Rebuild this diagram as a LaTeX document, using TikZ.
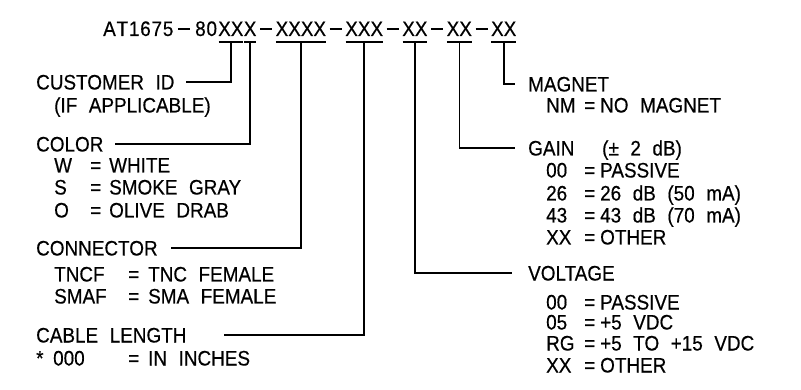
\documentclass[tikz,border=0pt]{standalone}
\usepackage{fontspec}
\setmainfont[FakeStretch=0.9,FakeBold=0.4]{Liberation Sans}
\newcommand{\kvrow}[4]{\makebox[#1][l]{#2}\makebox[#3][l]{=}#4}
\newcommand{\widesp}{\spaceskip=0.55em\relax}
\newcommand{\ks}{\kern0.8pt}
\newcommand{\tdash}{\rule[6.3pt]{12pt}{1.6pt}}
\tikzset{
  lbl/.style={font=\fontsize{21}{24}\selectfont, execute at begin node=\widesp, anchor=base west, inner sep=0pt, text height=15pt, text depth=0pt},
  ttl/.style={font=\fontsize{21}{24}\selectfont, anchor=base west, inner sep=0pt, text height=15pt, text depth=0pt},
  dashn/.style={ttl, inner xsep=3.2pt},
  wire/.style={line width=1.6pt},
}
\begin{document}
\begin{tikzpicture}[x=1pt,y=-1pt]
\fill[white] (0,0) rectangle (801,390);
\useasboundingbox (0,0) rectangle (801,390);
% title
\node[ttl] (t0) at (103,36) {A\ks T\ks 1\ks 6\ks 7\ks 5};
\node[dashn, inner xsep=4.5pt] (d0) at (t0.base east) {\tdash};
\node[ttl] (t1) at (d0.base east) {8\ks 0\ks};
\node[ttl] (g1) at (t1.base east) {XX};
\node[ttl] (g2) at (g1.base east) {X};
\node[dashn] (d1) at (g2.base east) {\tdash};
\node[ttl] (g3) at (d1.base east) {XXXX};
\node[dashn] (d2) at (g3.base east) {\tdash};
\node[ttl] (g4) at (d2.base east) {XXX};
\node[dashn] (d3) at (g4.base east) {\tdash};
\node[ttl] (g5) at (d3.base east) {XX};
\node[dashn] (d4) at (g5.base east) {\tdash};
\node[ttl] (g6) at (d4.base east) {XX};
\node[dashn] (d5) at (g6.base east) {\tdash};
\node[ttl] (g7) at (d5.base east) {XX};
\foreach \g in {g1,g2,g3,g4,g5,g6,g7}{
  \draw[wire] ([yshift=-6pt,xshift=0.5pt]\g.south west) -- ([yshift=-6pt,xshift=-0.5pt]\g.south east);
}
% left labels
\node[lbl] (cust) at (36,89.5) {CUSTOMER ID};
\node[lbl] (custn) at (54,112.5) {(IF APPLICABLE)};
\node[lbl] (color) at (36,151.5) {COLOR};
\node[lbl] (cw) at (54,172.5) {\kvrow{36pt}{W}{19pt}{WHITE}};
\node[lbl] (cs) at (54,194.5) {\kvrow{36pt}{S}{19pt}{SMOKE GRAY}};
\node[lbl] (co) at (54,217.5) {\kvrow{36pt}{O}{19pt}{OLIVE DRAB}};
\node[lbl] (conn) at (36,255.5) {CONNECTOR};
\node[lbl] (ctn) at (54,281.5) {\kvrow{74pt}{TNCF}{20pt}{TNC FEMALE}};
\node[lbl] (csm) at (54,303.5) {\kvrow{74pt}{SMAF}{20pt}{SMA FEMALE}};
\node[lbl] (cable) at (36,342.5) {CABLE LENGTH};
\node[lbl] (cin) at (36,365.5) {\makebox[17pt][l]{*}\kvrow{75pt}{000}{20pt}{IN INCHES}};
% right labels
\node[lbl] (mag) at (528,91.5) {MAGNET};
\node[lbl] (mnm) at (546,112.5) {\kvrow{38pt}{NM}{16pt}{NO MAGNET}};
\node[lbl] (gain) at (528,155.5) {\makebox[74pt][l]{GAIN}(± 2 dB)};
\node[lbl] (g00) at (546,177.5) {\kvrow{38pt}{00}{16pt}{PASSIVE}};
\node[lbl] (g26) at (546,200.5) {\kvrow{38pt}{26}{16pt}{26 dB (50 mA)}};
\node[lbl] (g43) at (546,222.5) {\kvrow{38pt}{43}{16pt}{43 dB (70 mA)}};
\node[lbl] (gxx) at (546,244.5) {\kvrow{38pt}{XX}{16pt}{OTHER}};
\node[lbl] (volt) at (528,280.5) {VOLTAGE};
\node[lbl] (v00) at (546,309.5) {\kvrow{38pt}{00}{16pt}{PASSIVE}};
\node[lbl] (v05) at (546,329.5) {\kvrow{38pt}{05}{16pt}{+5 VDC}};
\node[lbl] (vrg) at (546,350.5) {\kvrow{38pt}{RG}{16pt}{+5 TO +15 VDC}};
\node[lbl] (vxx) at (546,372.5) {\kvrow{38pt}{XX}{16pt}{OTHER}};
% connectors
\draw[wire] ([yshift=-6pt]g1.south) |- ([xshift=11pt]cust.east);
\draw[wire] ([yshift=-6pt]g2.south) |- ([xshift=11pt]color.east);
\draw[wire] ([yshift=-6pt]g3.south) |- ([xshift=13pt]conn.east);
\draw[wire] ([yshift=-6pt]g4.south) |- ([xshift=37pt]cable.east);
\draw[wire] ([yshift=-6pt]g5.south) |- ([xshift=-16pt]volt.west);
\draw[wire] ([yshift=-6pt]g6.south) |- ([xshift=-13pt]gain.west);
\draw[wire] ([yshift=-6pt]g7.south) |- ([xshift=-13pt]mag.west);
\end{tikzpicture}
\end{document}
